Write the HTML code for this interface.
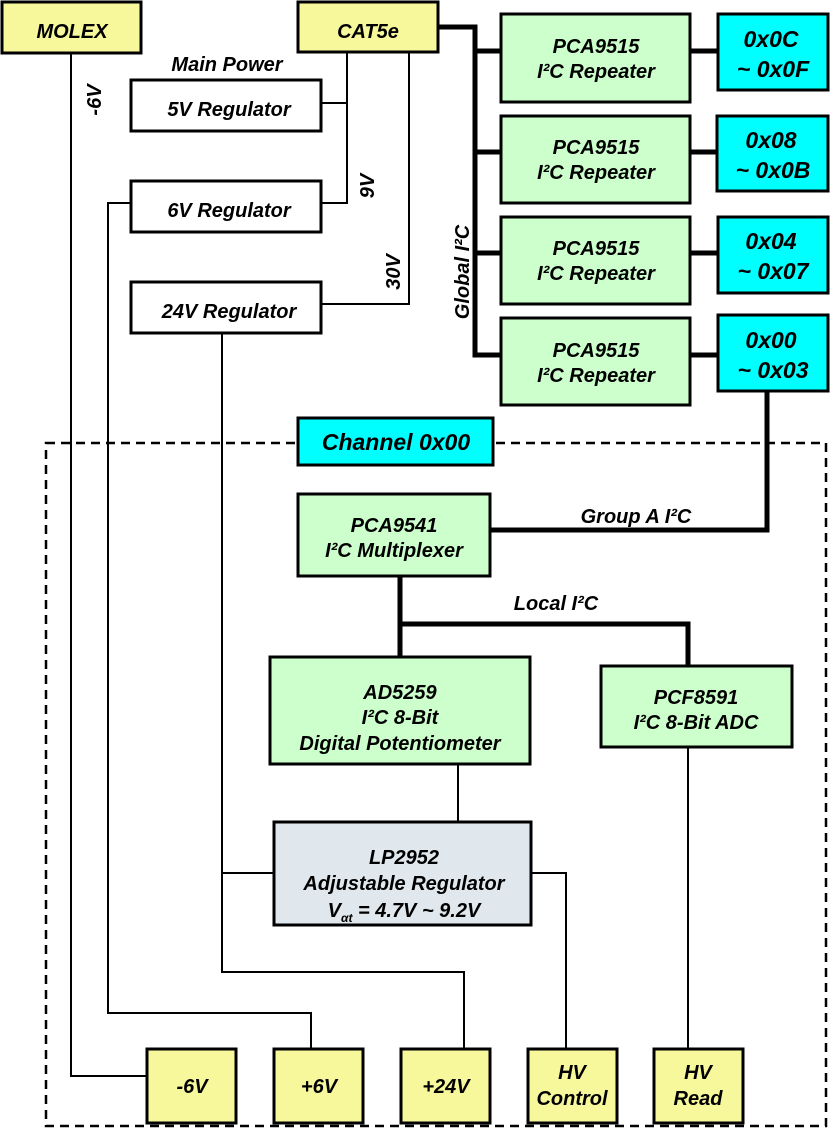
<!DOCTYPE html>
<html><head><meta charset="utf-8"><style>
html,body{margin:0;padding:0;background:#fff;}
svg text{font-family:"Liberation Sans",sans-serif;font-weight:bold;font-style:italic;font-size:20px;fill:#000;}
svg text.big{font-size:23px;}
svg tspan.sub{font-size:12px;}
</style></head><body>
<svg width="831" height="1128" viewBox="0 0 831 1128" xmlns="http://www.w3.org/2000/svg">
<g fill="none" stroke="#000">
<rect x="46" y="443" width="780" height="683" stroke-width="2.5" stroke-dasharray="9,6"/>
<g stroke-width="2">
<polyline points="71,53 71,1076 147,1076"/>
<polyline points="131,203 108,203 108,1013 311,1013 311,1049"/>
<polyline points="222,333 222,972 464,972 464,1049"/>
<polyline points="222,873 274,873"/>
<polyline points="531,873 566,873 566,1049"/>
<polyline points="688,747 688,1049"/>
<polyline points="458,764 458,822"/>
<polyline points="347,52 347,203 321,203"/>
<polyline points="321,103 347,103"/>
<polyline points="409,52 409,304 321,304"/>
</g>
<g stroke-width="5">
<polyline points="438,27 475,27 475,355 501,355"/>
<line x1="475" y1="51" x2="501" y2="51"/>
<line x1="475" y1="152" x2="501" y2="152"/>
<line x1="475" y1="253" x2="501" y2="253"/>
<line x1="690" y1="51" x2="718" y2="51"/>
<line x1="690" y1="152" x2="718" y2="152"/>
<line x1="690" y1="253" x2="718" y2="253"/>
<line x1="690" y1="355" x2="718" y2="355"/>
<polyline points="767,391 767,530 490,530"/>
<polyline points="400,576 400,624 688,624 688,666"/>
<line x1="400" y1="622" x2="400" y2="657"/>
</g>
<g stroke-width="3">
<rect x="2" y="2" width="139" height="51" fill="#f7f79b"/>
<rect x="298" y="2" width="140" height="50" fill="#f7f79b"/>
<rect x="131" y="80" width="190" height="51" fill="#fff"/>
<rect x="131" y="181" width="190" height="51" fill="#fff"/>
<rect x="131" y="282" width="190" height="51" fill="#fff"/>
<rect x="501" y="14" width="189" height="88" fill="#ccffcc"/>
<rect x="501" y="116" width="189" height="87" fill="#ccffcc"/>
<rect x="501" y="217" width="189" height="87" fill="#ccffcc"/>
<rect x="501" y="318" width="189" height="87" fill="#ccffcc"/>
<rect x="718" y="14" width="110" height="76" fill="#00ffff"/>
<rect x="717" y="116" width="111" height="75" fill="#00ffff"/>
<rect x="718" y="217" width="110" height="76" fill="#00ffff"/>
<rect x="718" y="315" width="110" height="76" fill="#00ffff"/>
<rect x="298" y="418" width="195" height="47" fill="#00ffff"/>
<rect x="298" y="494" width="192" height="82" fill="#ccffcc"/>
<rect x="270" y="657" width="260" height="107" fill="#ccffcc"/>
<rect x="601" y="666" width="191" height="81" fill="#ccffcc"/>
<rect x="274" y="822" width="257" height="103" fill="#e0e8ee"/>
<rect x="147" y="1049" width="89" height="74" fill="#f7f79b"/>
<rect x="274" y="1049" width="89" height="74" fill="#f7f79b"/>
<rect x="401" y="1049" width="89" height="74" fill="#f7f79b"/>
<rect x="528" y="1049" width="89" height="74" fill="#f7f79b"/>
<rect x="654" y="1049" width="89" height="74" fill="#f7f79b"/>
</g>
</g>
<g text-anchor="middle">
<text x="72" y="38">MOLEX</text>
<text x="368" y="38">CAT5e</text>
<text x="227" y="71">Main Power</text>
<text x="229" y="116">5V Regulator</text>
<text x="229" y="217">6V Regulator</text>
<text x="229" y="318">24V Regulator</text>
<text transform="translate(101,100) rotate(-90)">-6V</text>
<text transform="translate(374,186) rotate(-90)">9V</text>
<text transform="translate(400,272) rotate(-90)">30V</text>
<text transform="translate(469,272) rotate(-90)">Global I²C</text>
<text x="596" y="53">PCA9515</text><text x="596" y="78">I²C Repeater</text>
<text x="596" y="154">PCA9515</text><text x="596" y="179">I²C Repeater</text>
<text x="596" y="255">PCA9515</text><text x="596" y="280">I²C Repeater</text>
<text x="596" y="357">PCA9515</text><text x="596" y="382">I²C Repeater</text>
<text class="big" x="771" y="47">0x0C</text><text class="big" x="773" y="77">~ 0x0F</text>
<text class="big" x="771" y="148">0x08</text><text class="big" x="773" y="178">~ 0x0B</text>
<text class="big" x="771" y="249">0x04</text><text class="big" x="773" y="279">~ 0x07</text>
<text class="big" x="771" y="348">0x00</text><text class="big" x="773" y="378">~ 0x03</text>
<text class="big" x="396" y="450">Channel 0x00</text>
<text x="636" y="523">Group A I²C</text>
<text x="394" y="532">PCA9541</text><text x="394" y="557">I²C Multiplexer</text>
<text x="556" y="610">Local I²C</text>
<text x="400" y="699">AD5259</text><text x="400" y="724">I²C 8-Bit</text><text x="400" y="750">Digital Potentiometer</text>
<text x="696" y="704">PCF8591</text><text x="696" y="729">I²C 8-Bit ADC</text>
<text x="404" y="864">LP2952</text><text x="404" y="890">Adjustable Regulator</text>
<text x="404" y="917">V<tspan class="sub" dy="5">αt</tspan><tspan dy="-5"> = 4.7V ~ 9.2V</tspan></text>
<text x="192" y="1093">-6V</text>
<text x="319" y="1093">+6V</text>
<text x="446" y="1093">+24V</text>
<text x="572" y="1079">HV</text><text x="572" y="1105">Control</text>
<text x="698" y="1079">HV</text><text x="698" y="1105">Read</text>
</g>
</svg>
</body></html>
